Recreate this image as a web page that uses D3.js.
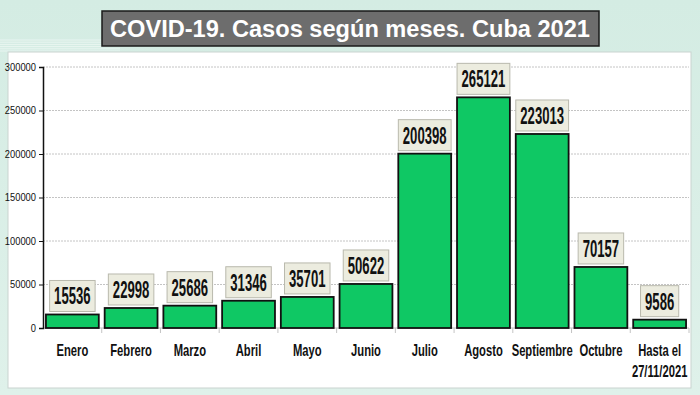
<!DOCTYPE html>
<html><head><meta charset="utf-8">
<script src="https://cdn.jsdelivr.net/npm/d3@7"></script>
<style>
html,body{margin:0;padding:0;background:#d9eee6;}
svg{display:block;}
</style></head>
<body>
<svg id="c" width="700" height="395"></svg>
<script>
const titleText = "COVID-19. Casos según meses. Cuba 2021";
const categories = ["Enero","Febrero","Marzo","Abril","Mayo","Junio","Julio","Agosto","Septiembre","Octubre","Hasta el\n27/11/2021"];
const cases = [15536,22998,25686,31346,35701,50622,200398,265121,223013,70157,9586];
const yTicks = [0,50000,100000,150000,200000,250000,300000];

const svg = d3.select("#c");
const W = 700, H = 395;

// background
const defs = svg.append("defs");
const bg = defs.append("linearGradient").attr("id","bg").attr("x1",0).attr("y1",0).attr("x2",0).attr("y2",1);
bg.append("stop").attr("offset","0%").attr("stop-color","#d4ece3");
bg.append("stop").attr("offset","100%").attr("stop-color","#dff1ea");
svg.append("rect").attr("width",W).attr("height",H).attr("fill","url(#bg)");
// decorative stripes left
d3.range(6).forEach(i=>{
  svg.append("line").attr("x1",0).attr("x2",120).attr("y1",40+i*2.2).attr("y2",40+i*2.2)
    .attr("stroke","#eef8f4").attr("stroke-width",0.8);
});

// chart panel
svg.append("rect").attr("x",8).attr("y",52).attr("width",683).attr("height",336)
  .attr("fill","#ffffff").attr("stroke","#c9d3cf").attr("stroke-width",1);

// title box
svg.append("rect").attr("x",102).attr("y",11).attr("width",497).attr("height",35)
  .attr("fill","#6d6d6d").attr("stroke","#1a1a1a").attr("stroke-width",1.5);
svg.append("text").attr("x",350).attr("y",37).attr("text-anchor","middle")
  .attr("font-family","Liberation Sans, Arial, sans-serif").attr("font-weight","bold")
  .attr("font-size",23).attr("fill","#ffffff")
  .attr("textLength",480).attr("lengthAdjust","spacingAndGlyphs").text(titleText);

const x = d3.scaleBand().domain(categories).range([43,689]).paddingInner(0.1).paddingOuter(0.05);
const y = d3.scaleLinear().domain([0,300000]).range([328,67]);

// gridlines
svg.append("g").selectAll("line").data(yTicks.filter(d=>d>0)).join("line")
  .attr("x1",43).attr("x2",689).attr("y1",d=>y(d)).attr("y2",d=>y(d))
  .attr("stroke","#c4c4c4").attr("stroke-width",1).attr("stroke-dasharray","2,1");

// x axis baseline + boundary ticks
svg.append("line").attr("x1",43).attr("x2",689).attr("y1",y(0)).attr("y2",y(0))
  .attr("stroke","#bdbdbd").attr("stroke-width",1);
const step = x.step();
svg.append("g").selectAll("line").data(categories).join("line")
  .attr("x1",d=>x(d)+x.bandwidth()+ (step-x.bandwidth())/2).attr("x2",d=>x(d)+x.bandwidth()+(step-x.bandwidth())/2)
  .attr("y1",y(0)).attr("y2",y(0)+5).attr("stroke","#c4c4c4");

// y axis
const yAxis = svg.append("g").attr("transform","translate(43,0)")
  .call(d3.axisLeft(y).tickValues(yTicks).tickSize(4).tickPadding(3).tickFormat(d3.format("d")));
yAxis.select(".domain").attr("stroke","#111").attr("stroke-width",1.5);
yAxis.selectAll(".tick line").attr("stroke","#111");
yAxis.selectAll("text").attr("font-family","Liberation Sans Narrow, Arial Narrow, Liberation Sans, sans-serif")
  .attr("font-size",10).attr("fill","#111")
  .each(function(d){ const n=String(d).length; d3.select(this).attr("textLength",n*5.2).attr("lengthAdjust","spacingAndGlyphs"); });

// bars
svg.append("g").selectAll("rect").data(categories).join("rect")
  .attr("x",d=>x(d)).attr("width",x.bandwidth())
  .attr("y",(d,i)=>y(cases[i])).attr("height",(d,i)=>y(0)-y(cases[i]))
  .attr("fill","#0fc864").attr("stroke","#111").attr("stroke-width",1.8);

// value labels
const lg = svg.append("g");
categories.forEach((c,i)=>{
  const s = String(cases[i]);
  const tw = s.length*7.3;
  const bw = tw+9, bh = 31;
  const cx = x(c)+x.bandwidth()/2;
  const by = y(cases[i]) - 3 - bh;
  lg.append("rect").attr("x",cx-bw/2).attr("y",by).attr("width",bw).attr("height",bh)
    .attr("fill","#ececdf").attr("stroke","#b9b9ad").attr("stroke-width",1);
  lg.append("text").attr("x",cx).attr("y",by+bh-7).attr("text-anchor","middle")
    .attr("font-family","Liberation Sans Narrow, Arial Narrow, Liberation Sans, sans-serif")
    .attr("font-weight","bold").attr("font-size",23).attr("fill","#111")
    .attr("textLength",tw).attr("lengthAdjust","spacingAndGlyphs").text(s);
});

// x labels (horizontally condensed via transform)
const xl = svg.append("g");
categories.forEach(c=>{
  const lines = c.split("\n");
  const cx = x(c)+x.bandwidth()/2;
  lines.forEach((ln,j)=>{
    xl.append("text").attr("transform",`translate(${cx},${356+j*21}) scale(0.66,1)`)
      .attr("text-anchor","middle")
      .attr("font-family","Liberation Sans, Arial, sans-serif")
      .attr("font-weight","bold").attr("font-size",17).attr("fill","#111").text(ln);
  });
});
</script>
</body></html>
